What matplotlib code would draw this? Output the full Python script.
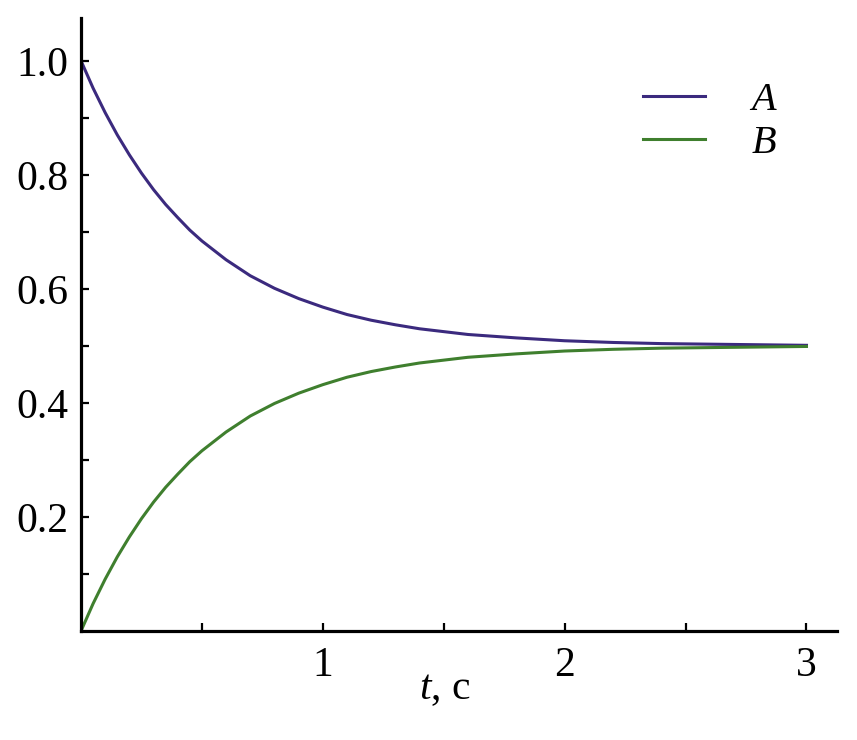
import matplotlib
matplotlib.use("Agg")
import matplotlib.pyplot as plt

# values
t = [0.0, 0.05, 0.1, 0.15, 0.2, 0.25, 0.3, 0.35, 0.4, 0.45, 0.5, 0.6, 0.7, 0.8, 0.9, 1.0,
     1.1, 1.2, 1.3, 1.4, 1.6, 1.8, 2.0, 2.2, 2.4, 2.6, 2.8, 3.0]
a_vals = [1.0, 0.952, 0.909, 0.870, 0.835, 0.803, 0.774, 0.748, 0.725, 0.703, 0.684,
          0.651, 0.623, 0.601, 0.583, 0.568, 0.555, 0.545, 0.537, 0.530, 0.520, 0.514,
          0.509, 0.506, 0.504, 0.503, 0.502, 0.501]
b_vals = [0.0, 0.048, 0.091, 0.130, 0.165, 0.197, 0.226, 0.252, 0.275, 0.297, 0.316,
          0.349, 0.377, 0.399, 0.417, 0.432, 0.445, 0.455, 0.463, 0.470, 0.480, 0.486,
          0.491, 0.494, 0.496, 0.497, 0.498, 0.499]
x_major = [1, 2, 3]
x_minor = [0.5, 1.5, 2.5]
y_major = [0.2, 0.4, 0.6, 0.8, 1.0]
y_minor = [0.1, 0.3, 0.5, 0.7, 0.9]

plt.rcParams['font.family'] = ['Liberation Serif', 'DejaVu Serif']
plt.rcParams['mathtext.fontset'] = 'custom'
plt.rcParams['mathtext.rm'] = 'Liberation Serif'
plt.rcParams['mathtext.it'] = 'Liberation Serif:italic'

fig = plt.figure(figsize=(8.57, 7.4), dpi=100)
ax = fig.add_axes([81 / 857, 1 - 631 / 740, 755.7 / 857, 613 / 740])

ax.plot(t, a_vals, color='#3b2a7e', lw=2.2, label='A')
ax.plot(t, b_vals, color='#3f7f2e', lw=2.2, label='B')

ax.set_xlim(0, 3.125)
ax.set_ylim(0, 1.075)
ax.spines['top'].set_visible(False)
ax.spines['right'].set_visible(False)
for s in ['left', 'bottom']:
    ax.spines[s].set_linewidth(2.3)

ax.set_xticks(x_major)
ax.set_xticks(x_minor, minor=True)
ax.set_xticklabels(['1', '2', '3'])
ax.set_yticks(y_major)
ax.set_yticks(y_minor, minor=True)
ax.set_yticklabels(['0.2', '0.4', '0.6', '0.8', '1.0'])
ax.tick_params(which='both', direction='in', length=6, width=1.6)
ax.tick_params(axis='y', which='major', labelsize=30, pad=9)
ax.tick_params(axis='x', which='major', labelsize=30, pad=11)

ax.set_xlabel(r'$t$, с', fontsize=30)
ax.xaxis.set_label_coords(0.482, -0.063)

leg = ax.legend(loc='upper right', bbox_to_anchor=(0.968, 0.955), frameon=False,
                prop={'style': 'italic', 'size': 29}, handlelength=1.55,
                handletextpad=1.15, labelspacing=0.15)

fig.savefig('out.png', dpi=100)
